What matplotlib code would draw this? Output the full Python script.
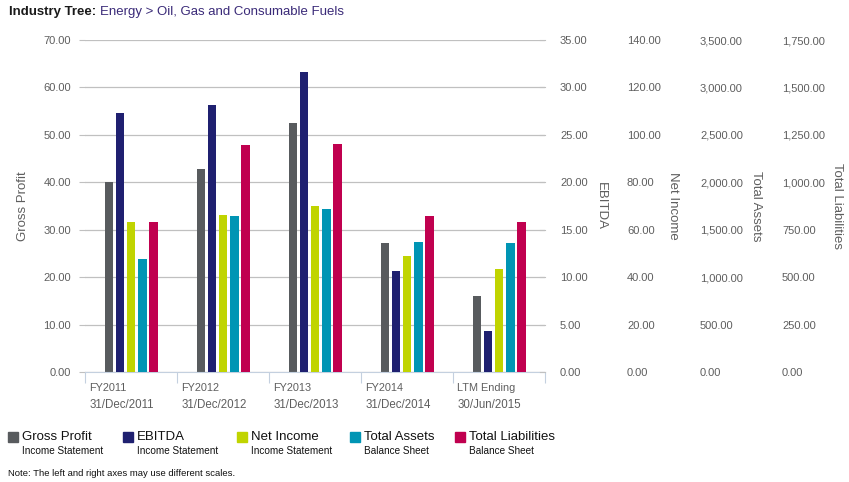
import matplotlib
matplotlib.use("Agg")
import matplotlib.pyplot as plt
from matplotlib.patches import Rectangle
import numpy as np

plt.rcParams['font.family'] = ['Liberation Sans', 'DejaVu Sans']

# data
periods = ['FY2011', 'FY2012', 'FY2013', 'FY2014', 'LTM Ending']
dates = ['31/Dec/2011', '31/Dec/2012', '31/Dec/2013', '31/Dec/2014', '30/Jun/2015']
gross_profit = [40.0, 42.7, 52.6, 27.3, 16.1]
ebitda = [27.3, 28.1, 31.6, 10.6, 4.3]
net_income = [63.4, 66.0, 70.2, 49.0, 43.6]
total_assets = [1194, 1649, 1723, 1374, 1364]
total_liabilities = [793, 1194, 1200, 824, 793]

series_names = ['Gross Profit', 'EBITDA', 'Net Income', 'Total Assets', 'Total Liabilities']
series_sub = ['Income Statement', 'Income Statement', 'Income Statement', 'Balance Sheet', 'Balance Sheet']
colors = ['#585b5e', '#1f2070', '#c0d400', '#0095b4', '#c0004f']
axis_max = [70, 35, 140, 3500, 1750]
axis_step = [10, 5, 20, 500, 250]

W, H = 849, 482
fig = plt.figure(figsize=(W / 100, H / 100), dpi=100)

ax = fig.add_axes([85 / W, 1 - 372 / H, 460 / W, 332 / H])
axes = [ax] + [ax.twinx() for _ in range(4)]

x = np.arange(len(periods))
values = [gross_profit, ebitda, net_income, total_assets, total_liabilities]
offsets = [-0.24, -0.12, 0.0, 0.125, 0.245]
tick_color = '#5e5e5e'

# label x positions (px) of right axes tick labels and titles
label_x = [None, 560, 627, 700, 782]
title_x = [29, 601, 673, 756, 837]

for i, a in enumerate(axes):
    a.bar(x + offsets[i], values[i], width=0.088, color=colors[i], zorder=3)
    a.set_ylim(0, axis_max[i])
    a.set_xlim(-0.5, len(periods) - 0.5)
    ticks = np.arange(0, axis_max[i] + 1, axis_step[i])
    a.set_yticks(ticks)
    a.set_yticklabels(['{:,.2f}'.format(t) for t in ticks])
    for s in a.spines.values():
        s.set_visible(False)
    if i == 0:
        a.tick_params(axis='y', length=4, color='#c0c0c0', pad=6,
                      labelsize=8, labelcolor=tick_color)
        a.set_ylabel(series_names[i], fontsize=9.5, color=tick_color)
        a.yaxis.set_label_coords((title_x[i] - 85) / 460, 0.5)
    else:
        pos = (label_x[i] - 85) / 460
        a.spines['right'].set_position(('axes', pos))
        a.tick_params(axis='y', length=0, pad=0, labelsize=8, labelcolor=tick_color)
        a.set_ylabel(series_names[i], fontsize=9.5, color=tick_color,
                     rotation=-90, va='center')
        a.yaxis.set_label_coords((title_x[i] - 85) / 460, 0.5)
    a.tick_params(axis='x', bottom=False, labelbottom=False)

# ebitda tick marks at the right edge of the plot
for t in np.arange(0, 36, 5):
    axes[1].plot([1.0, 0.99], [t, t], color='#c0c0c0', lw=0.8,
                 transform=axes[1].get_yaxis_transform(), clip_on=False)

ax.grid(axis='y', color='#c0c0c0', linewidth=0.9, zorder=0)
ax.set_axisbelow(True)

# category axis
ax.spines['bottom'].set_visible(True)
ax.spines['bottom'].set_color('#c4d0df')
ax.spines['bottom'].set_zorder(5)
ax.set_xticks(np.arange(-0.5, len(periods)))
ax.tick_params(axis='x', bottom=True, length=8, color='#c4d0df', labelbottom=False)
for i in range(len(periods)):
    ax.text(i - 0.5 + 0.045, -16 / 332, periods[i], transform=ax.get_xaxis_transform(),
            fontsize=7.8, color=tick_color, va='center', ha='left')
    ax.text(i - 0.5 + 0.045, -33 / 332, dates[i], transform=ax.get_xaxis_transform(),
            fontsize=8.3, color=tick_color, va='center', ha='left')

# title
t1 = fig.text(9 / W, 1 - 12 / H, 'Industry Tree: ', fontsize=9.5, fontweight='bold',
              color='#1a1a1a', va='center', ha='left')
ax.annotate('Energy > Oil, Gas and Consumable Fuels', xy=(1, 0.5), xycoords=t1,
            fontsize=9.5, color='#3a2a78', va='center', ha='left', annotation_clip=False)

# legend
leg_x = [8, 123, 237, 350, 455]
for i in range(5):
    fig.add_artist(Rectangle((leg_x[i] / W, 1 - 442 / H), 10 / W, 10 / H,
                             transform=fig.transFigure, color=colors[i]))
    fig.text((leg_x[i] + 14) / W, 1 - 437 / H, series_names[i], fontsize=9.5,
             color='#111111', va='center', ha='left')
    fig.text((leg_x[i] + 14) / W, 1 - 451 / H, series_sub[i], fontsize=7.2,
             color='#111111', va='center', ha='left')

fig.text(8 / W, 1 - 474 / H, 'Note: The left and right axes may use different scales.',
         fontsize=6.8, color='#111111', va='center', ha='left')

fig.savefig('out.png', dpi=100)
